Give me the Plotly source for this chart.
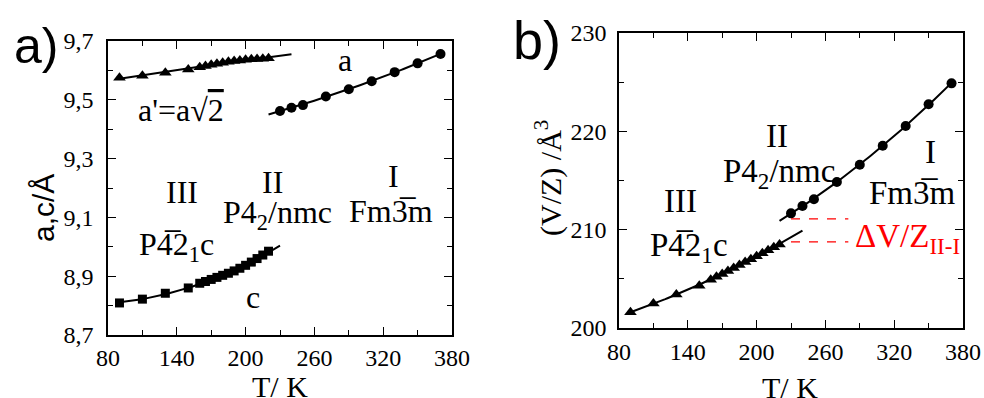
import numpy as np
import plotly.graph_objects as go

# ---------------- data ----------------
T_low = [90, 110, 130, 150, 160, 165, 170, 175, 180, 185, 190, 195, 200, 205, 210, 215, 220]
a_prime = [9.575, 9.582, 9.592, 9.603, 9.611, 9.615, 9.619, 9.623, 9.626, 9.629, 9.632,
           9.634, 9.636, 9.638, 9.639, 9.640, 9.641]
c_low = [8.809, 8.822, 8.842, 8.860, 8.876, 8.882, 8.889, 8.896, 8.903, 8.910, 8.918,
         8.927, 8.937, 8.948, 8.960, 8.972, 8.985]
V_low = [201.6, 202.5, 203.4, 204.3, 204.9, 205.2, 205.5, 205.8, 206.1, 206.4, 206.7,
         207.0, 207.3, 207.6, 207.9, 208.2, 208.5]

T_high = [230, 240, 250, 270, 290, 310, 330, 350, 370]
a_high = [9.462, 9.473, 9.482, 9.511, 9.536, 9.563, 9.594, 9.624, 9.656]
V_high = [211.66, 212.4, 213.1, 214.85, 216.6, 218.54, 220.54, 222.75, 224.88]

fit_low_a = [90, 240]
fit_low_c = [90, 230]
fit_high = [220, 370]
fit_low_V = [90, 240]

dV_T = [230, 280]
dV_upper = 211.1
dV_lower = 208.75

x_ticks = [80, 140, 200, 260, 320, 380]
x_labels = ["80", "140", "200", "260", "320", "380"]
x_minor = [110, 170, 230, 290, 350]
ya_ticks = [8.7, 8.9, 9.1, 9.3, 9.5, 9.7]
ya_labels = ["8,7", "8,9", "9,1", "9,3", "9,5", "9,7"]
ya_minor = [8.8, 9.0, 9.2, 9.4, 9.6]
yb_ticks = [200, 210, 220, 230]
yb_labels = ["200", "210", "220", "230"]
yb_minor = [205, 215, 225]

W, H = 984, 398
SERIF = "Times New Roman, Liberation Serif, serif"
SANS = "Liberation Sans"


def fit_curve(x, y, rng, deg=2):
    p = np.polyfit(x, y, deg)
    xs = np.linspace(rng[0], rng[1], 80)
    return xs, np.polyval(p, xs)


fig = go.Figure()

line_style = dict(color="black", width=2)

for x, y, rng, xa, ya in [
    (T_low, a_prime, fit_low_a, "x", "y"),
    (T_low, c_low, fit_low_c, "x", "y"),
    (T_high, a_high, fit_high, "x", "y"),
    (T_low, V_low, fit_low_V, "x2", "y2"),
    (T_high, V_high, fit_high, "x2", "y2"),
]:
    xs, ys = fit_curve(x, y, rng)
    fig.add_trace(go.Scatter(x=xs, y=ys, mode="lines", line=line_style,
                             xaxis=xa, yaxis=ya, showlegend=False, hoverinfo="skip"))

fig.add_trace(go.Scatter(x=T_low, y=a_prime, mode="markers",
                         marker=dict(symbol="triangle-up", size=11, color="black"),
                         xaxis="x", yaxis="y", showlegend=False))
fig.add_trace(go.Scatter(x=T_low, y=c_low, mode="markers",
                         marker=dict(symbol="square", size=9, color="black"),
                         xaxis="x", yaxis="y", showlegend=False))
fig.add_trace(go.Scatter(x=T_high, y=a_high, mode="markers",
                         marker=dict(symbol="circle", size=10, color="black"),
                         xaxis="x", yaxis="y", showlegend=False))
fig.add_trace(go.Scatter(x=T_low, y=V_low, mode="markers",
                         marker=dict(symbol="triangle-up", size=11, color="black"),
                         xaxis="x2", yaxis="y2", showlegend=False))
fig.add_trace(go.Scatter(x=T_high, y=V_high, mode="markers",
                         marker=dict(symbol="circle", size=10, color="black"),
                         xaxis="x2", yaxis="y2", showlegend=False))

for yv in [dV_upper, dV_lower]:
    fig.add_trace(go.Scatter(x=dV_T, y=[yv, yv], mode="lines",
                             line=dict(color="red", width=1.3, dash="dash"),
                             xaxis="x2", yaxis="y2", showlegend=False, hoverinfo="skip"))

tickfont = dict(family=SERIF, size=24, color="black")


def axis_style(tickvals, ticktext, minorvals, **kw):
    d = dict(tickmode="array", tickvals=tickvals, ticktext=ticktext,
             ticks="inside", ticklen=8, tickwidth=1.3, tickcolor="black",
             minor=dict(ticks="inside", ticklen=5, tickwidth=1.2, tickcolor="black",
                        tickmode="array", tickvals=minorvals),
             showline=True, linecolor="black", linewidth=1.5, mirror="allticks",
             showgrid=False, zeroline=False, tickfont=tickfont, automargin=False)
    d.update(kw)
    return d


fig.update_layout(
    template="none",
    width=W, height=H,
    margin=dict(l=0, r=0, t=0, b=0, pad=0),
    paper_bgcolor="white", plot_bgcolor="white",
    font=dict(family=SERIF, size=24, color="black"),
    xaxis=axis_style(x_ticks, x_labels, x_minor, domain=[108 / W, 452 / W], anchor="y",
                     range=[80, 380], ticklabelstandoff=0),
    yaxis=axis_style(ya_ticks, ya_labels, ya_minor,
                     domain=[(H - 335) / H, (H - 41) / H], anchor="x",
                     range=[8.7, 9.7], ticklabelstandoff=8),
    xaxis2=axis_style(x_ticks, x_labels, x_minor, domain=[619 / W, 963 / W], anchor="y2",
                      range=[80, 380], ticklabelstandoff=1),
    yaxis2=axis_style(yb_ticks, yb_labels, yb_minor,
                      domain=[(H - 328) / H, (H - 33) / H], anchor="x2",
                      range=[200, 230], ticklabelstandoff=6),
)


def px(xp, yp):
    return xp / W, 1 - yp / H


def label(text, xp, yp, size=32, family=SERIF, color="black", angle=0, xanchor="center"):
    x, y = px(xp, yp)
    fig.add_annotation(text=text, x=x, y=y, xref="paper", yref="paper",
                       showarrow=False, xanchor=xanchor, yanchor="middle",
                       textangle=angle,
                       font=dict(family=family, size=size, color=color))


OV = "\u0305"

label("a)", 12, 46, size=50, family=SANS, xanchor="left")
label("b)", 511, 40, size=54, family=SANS, xanchor="left")

label("T/ K", 280, 386, size=30)
label("T/ K", 790, 387, size=30)
label("a,c/Å", 43, 208, size=30, family=SANS, angle=-90)
label("(V/Z) /Å<sup>3</sup>", 548, 178, size=30, angle=-90)

label("a", 345, 60)
label("a'=a√<span style='text-decoration:overline'>2</span>", 181, 110)
label("III", 182, 192)
label("P4" + OV + "2<sub>1</sub>c", 176, 246)
label("II", 272, 182)
label("P4<sub>2</sub>/nmc", 277, 215)
label("I", 393, 176)
label("Fm3" + OV + "m", 391, 211)
label("c", 253, 297)

label("II", 777, 136, size=33)
label("P4<sub>2</sub>/nmc", 779, 173, size=33)
label("I", 930, 152, size=33)
label("Fm3" + OV + "m", 912, 193, size=33)
label("III", 680, 201, size=33)
label("P4" + OV + "2<sub>1</sub>c", 689, 247, size=33)
label("ΔV/Z<sub>II-I</sub>", 907, 238, size=33, color="red")

fig.write_html("out.html",
               config={"displayModeBar": False},
               post_script="document.body.style.margin='0';document.body.style.padding='0';")
